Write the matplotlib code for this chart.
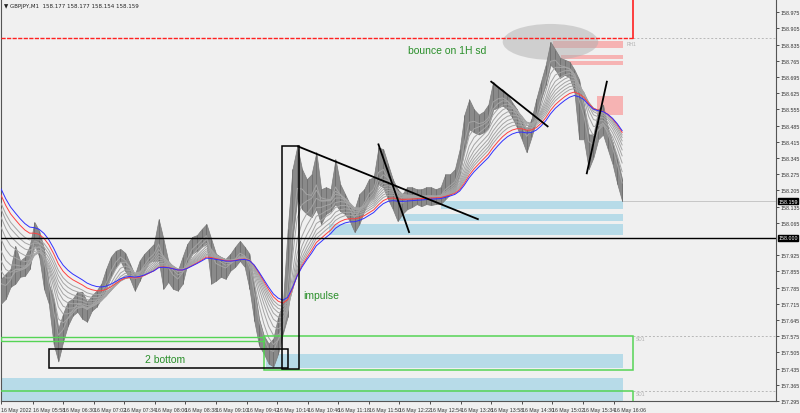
import numpy as np
import matplotlib.pyplot as plt
from matplotlib.patches import Rectangle, Ellipse
import matplotlib.transforms as mtransforms

plt.rcParams['font.family'] = ['Liberation Sans', 'DejaVu Sans']

# GBPJPY M1, 16 May 2022 - sampled every 5 bars, minutes after 05:25
t = np.arange(0, 655, 5)
hi = [157.823, 157.845, 157.866, 157.965, 157.901, 157.918, 157.965, 158.068, 158.030, 157.952,
      157.802, 157.737, 157.608, 157.673, 157.724, 157.737, 157.767, 157.767, 157.724, 157.750,
      157.772, 157.802, 157.866, 157.918, 157.944, 157.952, 157.935, 157.888, 157.840, 157.901,
      157.931, 157.952, 157.974, 158.081, 157.995, 157.901, 157.875, 157.858, 157.918, 157.974,
      158.004, 158.012, 158.038, 158.060, 157.995, 157.931, 157.918, 157.909, 157.931, 157.961,
      157.987, 157.961, 157.931, 157.789, 157.651, 157.578, 157.543, 157.565, 157.660, 157.716,
      158.038, 158.297, 158.395, 158.297, 158.253, 158.275, 158.370, 158.210, 158.219, 158.210,
      158.340, 158.232, 158.189, 158.146, 158.124, 158.189, 158.210, 158.253, 158.262, 158.391,
      158.383, 158.318, 158.253, 158.210, 158.189, 158.219, 158.219, 158.210, 158.210, 158.219,
      158.219, 158.210, 158.219, 158.275, 158.275, 158.297, 158.383, 158.533, 158.598, 158.555,
      158.533, 158.546, 158.576, 158.675, 158.649, 158.641, 158.619, 158.585, 158.555, 158.512,
      158.469, 158.512, 158.598, 158.675, 158.748, 158.847, 158.813, 158.778, 158.770, 158.761,
      158.727, 158.684, 158.576, 158.447, 158.447, 158.555, 158.576, 158.477, 158.413, 158.340,
      158.253]
lo = [157.716, 157.737, 157.789, 157.802, 157.832, 157.836, 157.866, 157.974, 157.918, 157.780,
      157.716, 157.543, 157.466, 157.552, 157.621, 157.664, 157.681, 157.651, 157.638, 157.685,
      157.703, 157.737, 157.780, 157.832, 157.875, 157.901, 157.858, 157.823, 157.772, 157.815,
      157.858, 157.896, 157.901, 157.901, 157.780, 157.810, 157.780, 157.772, 157.802, 157.888,
      157.931, 157.944, 157.961, 157.974, 157.802, 157.815, 157.832, 157.823, 157.858, 157.875,
      157.901, 157.875, 157.780, 157.642, 157.535, 157.500, 157.457, 157.444, 157.500, 157.587,
      157.660, 157.995, 158.167, 158.124, 158.103, 158.090, 158.124, 158.060, 158.103, 158.116,
      158.146, 158.116, 158.103, 158.073, 158.025, 158.060, 158.116, 158.159, 158.176, 158.232,
      158.219, 158.167, 158.124, 158.073, 158.103, 158.124, 158.133, 158.146, 158.137, 158.146,
      158.142, 158.146, 158.146, 158.167, 158.189, 158.202, 158.275, 158.383, 158.469, 158.456,
      158.447, 158.456, 158.477, 158.555, 158.563, 158.572, 158.555, 158.520, 158.477, 158.426,
      158.370, 158.434, 158.503, 158.598, 158.662, 158.748, 158.727, 158.692, 158.705, 158.692,
      158.632, 158.426, 158.426, 158.297, 158.348, 158.426, 158.447, 158.383, 158.318, 158.232,
      158.159]

# moving averages (M1 periods) and their values at the left edge
ema_periods = [8, 16, 24, 32, 40, 48, 56, 64, 72, 82, 92]
ema_start = [157.802, 157.858, 157.901, 157.944, 157.995, 158.047, 158.090, 158.125, 158.150, 158.185, 158.212]
ema_colors = ['#a4a4a4'] * 9 + ['#ff4040', '#3030ff']

# zones: (t0, t1, price_lo, price_hi)
blue_zones = [(460, 651, 158.124, 158.159), (416, 651, 158.073, 158.103), (343, 651, 158.012, 158.060),
              (277, 651, 157.436, 157.500), (0, 651, 157.290, 157.393)]
pink_zones = [(578, 651, 158.821, 158.852), (586, 651, 158.774, 158.791), (586, 651, 158.748, 158.766),
              (624, 651, 158.529, 158.611)]
box_2bottom = (50, 300, 157.436, 157.518)
box_impulse = (294, 312, 157.432, 158.395)
green_box = (275, 661, 157.427, 157.574)
green_thin = (0, 275, 157.556, 157.572)
green_low = 157.337
red_level = 158.864
red_right = 661
trendlines = [((311, 158.395), (499, 158.081)), ((395, 158.404), (427, 158.025)),
              ((513, 158.675), (572, 158.482)), ((613, 158.279), (634, 158.675))]

x_times = ['05:58', '06:30', '07:02', '07:34', '08:06', '08:38', '09:10', '09:42', '10:14', '10:46',
           '11:18', '11:50', '12:22', '12:54', '13:26', '13:58', '14:30', '15:02', '15:34', '16:06']
last_price = 158.159

fig = plt.figure(figsize=(8, 4.14), dpi=100)
fig.patch.set_facecolor('#f0f0f0')
ax = fig.add_axes([1 / 800, 12 / 414, 775 / 800, 401 / 414])
ax.set_facecolor('#f0f0f0')
ax.set_xlim(0, 811)
ax.set_ylim(157.298, 159.028)

for a, b, p0, p1 in blue_zones:
    ax.add_patch(Rectangle((a, p0), b - a, p1 - p0, color='#b7dbe8', lw=0, zorder=1))
for a, b, p0, p1 in pink_zones:
    ax.add_patch(Rectangle((a, p0), b - a, p1 - p0, color='#f6b3b3', lw=0, zorder=1))

ax.add_patch(Ellipse((575, 158.847), 100, 0.155, color='#b0b0b0', alpha=0.5, lw=0, zorder=2))

# price bars
hi_a, lo_a = np.array(hi), np.array(lo)
ax.fill_between(t, lo_a, hi_a, color='#8a8a8a', lw=0.5, ec='#7a7a7a', zorder=4)
ax.vlines(t, lo_a, hi_a, color='#6e6e6e', lw=0.6, zorder=4)

# EMA ribbon on the sampled closes
close = (hi_a + lo_a) / 2
for n, s, c in zip(ema_periods, ema_start, ema_colors):
    k = 1 - (1 - 2 / (n + 1)) ** 5
    e = [s]
    for v in close[1:]:
        e.append(e[-1] + k * (v - e[-1]))
    ax.plot(t, e, color=c, lw=0.7, zorder=5)

# levels
ax.axhline(158.0, color='black', lw=1.0, zorder=6)
ax.plot([t[-1], 811], [last_price, last_price], color='#c0c0c0', lw=0.6, zorder=3)
ax.plot([0, red_right], [red_level, red_level], color='#ff2020', lw=1.0, ls=(0, (3, 1)), zorder=6)
ax.plot([red_right, red_right], [red_level, 159.1], color='#ff2020', lw=1.2, zorder=6)
for lv in [red_level, green_box[3], green_low]:
    ax.plot([red_right, 811], [lv, lv], color='#b8b8b8', lw=0.7, ls=(0, (2, 2)), zorder=3)

g = '#55d455'
a, b, p0, p1 = green_box
ax.add_patch(Rectangle((a, p0), b - a, p1 - p0, fill=False, ec=g, lw=1.1, zorder=6))
a, b, p0, p1 = green_thin
ax.add_patch(Rectangle((a, p0), b - a, p1 - p0, fill=False, ec=g, lw=1.0, zorder=6))
ax.plot([0, red_right, red_right], [green_low, green_low, 157.2], color=g, lw=1.1, zorder=6)

for a, b, p0, p1 in [box_2bottom, box_impulse]:
    ax.add_patch(Rectangle((a, p0), b - a, p1 - p0, fill=False, ec='black', lw=1.1, zorder=7))
for (x0, y0), (x1, y1) in trendlines:
    ax.plot([x0, x1], [y0, y1], color='black', lw=1.3, zorder=7)

for txt, (x, y) in [('SD1', (664, green_box[3])), ('SD1', (664, green_low)), ('RH1', (655, 158.852))]:
    ax.text(x, y, txt, fontsize=3.5, color='#b0b0b0', va='top', ha='left', zorder=8)

green_txt = '#2a8f2a'
ax.text(426, 158.813, 'bounce on 1H sd', fontsize=7.5, color=green_txt, va='center', zorder=8)
ax.text(151, 157.478, '2 bottom', fontsize=7.5, color=green_txt, va='center', zorder=8)
ax.text(316, 157.752, 'impulse', fontsize=7.5, color=green_txt, va='center', zorder=8)

ax.text(0.004, 0.993, '\u25bc GBPJPY,M1  158.177 158.177 158.154 158.159', transform=ax.transAxes,
        fontsize=4, color='#222222', va='top', ha='left', family=['DejaVu Sans'])

# axes: right price scale, bottom time scale
yt = [round(157.295 + 0.07 * i, 3) for i in range(25)]
yt = [v for v in yt if abs(v - 157.995) > 1e-6]
ax.yaxis.tick_right()
ax.set_yticks(yt)
ax.set_yticklabels([f'{v:.3f}' for v in yt])
ax.tick_params(axis='y', labelsize=3.8, length=2.5, pad=1.0, colors='#333333', width=0.6)

xt = [0] + [int(s[:2]) * 60 + int(s[3:]) - 325 for s in x_times]
ax.set_xticks(xt)
ax.set_xticklabels(['16 May 2022'] + ['16 May ' + s for s in x_times], ha='left')
ax.tick_params(axis='x', labelsize=3.8, length=2.5, pad=1.5, colors='#333333', width=0.6)

for sp in ax.spines.values():
    sp.set_color('#555555')
    sp.set_linewidth(0.8)
ax.spines['top'].set_visible(False)

trans = mtransforms.blended_transform_factory(ax.transAxes, ax.transData)
for v in [last_price, 158.0]:
    ax.text(1.003, v, f'{v:.3f}', transform=trans, fontsize=3.8, color='white', va='center', ha='left',
            bbox=dict(boxstyle='square,pad=0.1', fc='black', ec='black'), zorder=9, clip_on=False)

fig.savefig('out.png', dpi=100, facecolor=fig.get_facecolor())
